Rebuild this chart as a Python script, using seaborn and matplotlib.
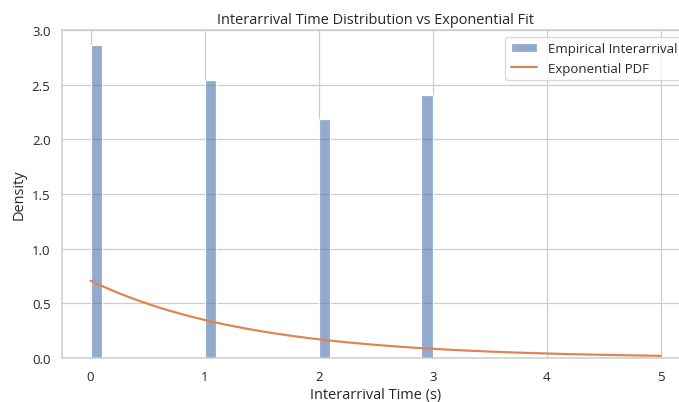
import numpy as np
import pandas as pd
import matplotlib
matplotlib.use("Agg")
import matplotlib.pyplot as plt
import seaborn as sns

# Observed interarrival times (s) and how often each occurred
interarrival_times = [0, 1, 2, 3]
counts = [286, 254, 218, 240]

# Range for the fitted exponential curve
fit_start, fit_end = 0, 5

sns.set_theme(style="whitegrid", context="notebook")
plt.rcParams['font.family'] = ['Open Sans', 'DejaVu Sans']

df = pd.DataFrame({'time': interarrival_times, 'count': counts})

# Exponential fit: rate = 1 / mean interarrival time
mean_time = np.average(df['time'], weights=df['count'])
rate = 1.0 / mean_time
x_fit = np.linspace(fit_start, fit_end, 300)
pdf_fit = rate * np.exp(-rate * x_fit)

dpi = 87
fig = plt.figure(figsize=(679 / dpi, 403 / dpi), dpi=dpi)
ax = fig.add_axes([0.0913, 0.109, 0.924, 0.814])

sns.histplot(data=df, x='time', weights='count', bins=30, stat='density',
             alpha=0.6, color='#4c72b0', label='Empirical Interarrival', ax=ax)
sns.lineplot(x=x_fit, y=pdf_fit, color='#dd8452', linewidth=1.8,
             label='Exponential PDF', ax=ax)

ax.set_ylim(0, 3.0)
ax.set_title('Interarrival Time Distribution vs Exponential Fit')
ax.set_xlabel('Interarrival Time (s)')
ax.set_ylabel('Density')

# histogram first, then the fitted curve
handles, labels = ax.get_legend_handles_labels()
order = [labels.index('Empirical Interarrival'), labels.index('Exponential PDF')]
ax.legend([handles[i] for i in order], [labels[i] for i in order], loc='upper right')

fig.savefig('out.png', dpi=dpi)
